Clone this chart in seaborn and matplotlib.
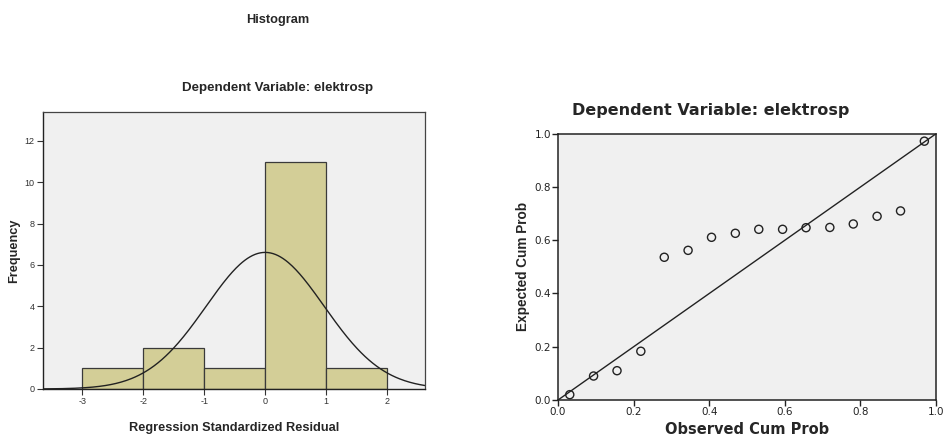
import numpy as np
import pandas as pd
import seaborn as sns
import matplotlib.pyplot as plt

# histogram of standardized residuals
bin_edges = [-3, -2, -1, 0, 1, 2]
bin_counts = [1, 2, 1, 11, 1]
resid_mean = 0.0
resid_sd = 0.966
n_obs = 16

# P-P plot
observed_cum = [0.031, 0.094, 0.156, 0.219, 0.281, 0.344, 0.406, 0.469,
                0.531, 0.594, 0.656, 0.719, 0.781, 0.844, 0.906, 0.969]
expected_cum = [0.020, 0.090, 0.110, 0.183, 0.536, 0.562, 0.611, 0.626,
                0.641, 0.641, 0.647, 0.648, 0.661, 0.690, 0.710, 0.972]

sns.set_theme(style="ticks")
plt.rcParams['font.family'] = ['Liberation Sans', 'DejaVu Sans']
plt.rcParams['axes.unicode_minus'] = False

bar_color = "#D3CE97"
bg_color = "#F0F0F0"

fig = plt.figure(figsize=(9.46, 4.38), dpi=100)
fig.patch.set_facecolor("white")

# ---- left: histogram ----
ax1 = fig.add_axes([0.0455, 0.1119, 0.4038, 0.6324])
ax1.set_facecolor(bg_color)
centers = [(bin_edges[i] + bin_edges[i + 1]) / 2 for i in range(len(bin_counts))]
hist_df = pd.DataFrame({"resid": centers, "count": bin_counts})
sns.histplot(data=hist_df, x="resid", weights="count", bins=bin_edges,
             color=bar_color, alpha=1, edgecolor="#3a3a3a", linewidth=0.9, ax=ax1)

xs = np.linspace(-3.64, 2.62, 300)
binw = bin_edges[1] - bin_edges[0]
curve = n_obs * binw * np.exp(-0.5 * ((xs - resid_mean) / resid_sd) ** 2) / (resid_sd * np.sqrt(2 * np.pi))
sns.lineplot(x=xs, y=curve, color="#222222", linewidth=1.0, ax=ax1)

ax1.set_xlim(-3.64, 2.62)
ax1.set_ylim(0, 13.4)
ax1.set_xticks([-3, -2, -1, 0, 1, 2])
ax1.set_yticks([0, 2, 4, 6, 8, 10, 12])
ax1.tick_params(labelsize=6.5, length=4, width=0.8, colors="#333333", pad=2)
for s in ["top", "right"]:
    ax1.spines[s].set_visible(True)
    ax1.spines[s].set_color("#444444")
    ax1.spines[s].set_linewidth(0.9)
for s in ["left", "bottom"]:
    ax1.spines[s].set_color("#222222")
    ax1.spines[s].set_linewidth(1.0)
ax1.set_xlabel("Regression Standardized Residual", fontsize=9.2, fontweight="bold", labelpad=11)
ax1.set_ylabel("Frequency", fontsize=9.2, fontweight="bold", labelpad=3)

fig.text(0.2939, 0.954, "Histogram", ha="center", va="center", fontsize=9.2, fontweight="bold")
fig.text(0.2939, 0.799, "Dependent Variable: elektrosp", ha="center", va="center",
         fontsize=9.6, fontweight="bold")

# ---- right: normal P-P plot ----
ax2 = fig.add_axes([0.5899, 0.0868, 0.3996, 0.6079])
ax2.set_facecolor(bg_color)
sns.lineplot(x=[0, 1], y=[0, 1], color="#222222", linewidth=1.0, ax=ax2)
sns.scatterplot(x=observed_cum, y=expected_cum, marker="o", s=34,
                facecolor="none", edgecolor="#222222", linewidth=1.0, ax=ax2)
ax2.set_xlim(0, 1)
ax2.set_ylim(0, 1)
ax2.set_xticks([0, 0.2, 0.4, 0.6, 0.8, 1.0])
ax2.set_yticks([0, 0.2, 0.4, 0.6, 0.8, 1.0])
ax2.set_xticklabels(["0.0", "0.2", "0.4", "0.6", "0.8", "1.0"], family="DejaVu Sans")
ax2.set_yticklabels(["0.0", "0.2", "0.4", "0.6", "0.8", "1.0"], family="DejaVu Sans")
ax2.tick_params(labelsize=7.5, length=4, width=1.0, colors="#222222", pad=1)
for s in ["top", "right", "left", "bottom"]:
    ax2.spines[s].set_visible(True)
    ax2.spines[s].set_color("#222222")
    ax2.spines[s].set_linewidth(1.1)
ax2.set_xlabel("Observed Cum Prob", fontsize=10.5, fontweight="bold", family="DejaVu Sans", labelpad=4)
ax2.set_ylabel("Expected Cum Prob", fontsize=9.8, fontweight="bold", labelpad=3)
fig.text(0.7516, 0.7466, "Dependent Variable: elektrosp", ha="center", va="center",
         fontsize=11.5, fontweight="bold", family="DejaVu Sans")

fig.savefig("out.png", dpi=100)
